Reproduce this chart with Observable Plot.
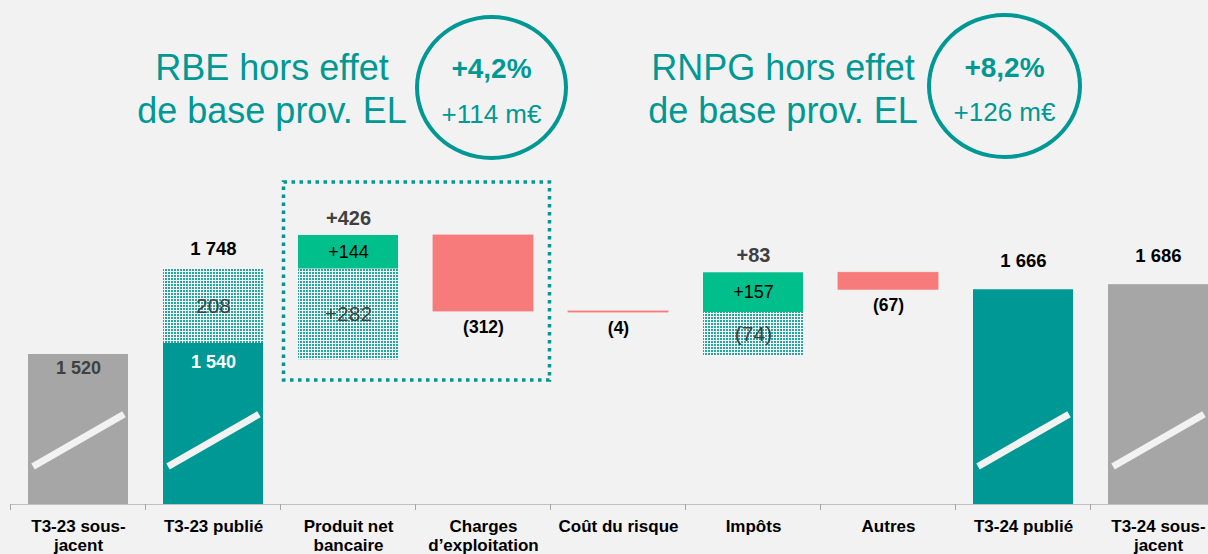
<!DOCTYPE html>
<html><head><meta charset="utf-8">
<script src="https://cdn.jsdelivr.net/npm/d3@7"></script>
<script src="https://cdn.jsdelivr.net/npm/@observablehq/plot@0.6"></script>
<style>
html,body{margin:0;padding:0;background:#f2f2f2;overflow:hidden;}
#wrap{position:relative;width:1208px;height:554px;font-family:"Liberation Sans",Arial,sans-serif;}
#head{position:relative;width:1208px;height:170px;}
.t{position:absolute;white-space:nowrap;transform:translateX(-50%);color:#009894;line-height:1;}
.c{position:absolute;box-sizing:border-box;border:4px solid #009894;border-radius:50%;}
#chart svg{display:block;}
</style></head>
<body><div id="wrap"><div id="head"></div><div id="chart"></div></div>
<script>
// ---- data ----
const categories = ["T3-23 sous-jacent","T3-23 publié","Produit net bancaire","Charges d’exploitation","Coût du risque","Impôts","Autres","T3-24 publié","T3-24 sous-jacent"];
const tickLabels = ["T3-23 sous-\njacent","T3-23 publié","Produit net\nbancaire","Charges\nd’exploitation","Coût du risque","Impôts","Autres","T3-24 publié","T3-24 sous-\njacent"];
const totalCats = ["T3-23 sous-jacent","T3-23 publié","T3-24 publié","T3-24 sous-jacent"];
const totalValues = [1520, 1540, 1666, 1686];
const totalKinds = ["underlying","published","published","underlying"];
const baseEffect23 = 208;
const stepCats = ["Produit net bancaire","Charges d’exploitation","Coût du risque","Impôts","Autres"];
const stepCore = [144, -312, -4, 157, -67];   // hors effet de base
const stepBase = [282, 0, 0, -74, 0];         // effet de base prov. EL
const headTitles = [["RBE hors effet","de base prov. EL"],["RNPG hors effet","de base prov. EL"]];
const headPct = ["+4,2%","+8,2%"];
const headAmt = ["+114 m€","+126 m€"];

// ---- helpers ----
const fmt = d3.formatLocale({decimal:",", thousands:" ", grouping:[3], currency:["","€"]}).format(",d");
const signed = v => v >= 0 ? "+" + fmt(v) : "(" + fmt(-v) + ")";
const C = {underlying:"#a6a6a6", published:"#009894", up:"#00bf8a", down:"#f87b7b", base:"url(#dots)"};

// broken value axis: piecewise transform (value -> display height), then a linear scale
const brk = d3.scaleLinear().domain([0,1520,1540,1576,1748,1892,2150]).range([0,150,161,192,235.5,269,330]);
const yOpts = {type:"linear", transform:brk, domain:[0,334], range:[334,0], axis:null};
const xOpts = {type:"band", domain:categories, range:[9.3,1227], paddingInner:0.26, paddingOuter:0.13, axis:null};
const mid = (a, b) => brk.invert((brk(a) + brk(b)) / 2);

// ---- build rows ----
const rows = [];
totalCats.forEach((c, i) => rows.push({cat:c, y1:0, y2:totalValues[i], kind:totalKinds[i]}));
const pub23 = totalValues[1];
rows.push({cat:totalCats[1], y1:pub23, y2:pub23 + baseEffect23, kind:"base"});
const labels = [];
labels.push({cat:totalCats[0], y:totalValues[0], text:fmt(totalValues[0]), role:"inTopGray"});
labels.push({cat:totalCats[1], y:totalValues[1], text:fmt(totalValues[1]), role:"inTopWhite"});
labels.push({cat:totalCats[1], y:mid(pub23, pub23 + baseEffect23), text:fmt(baseEffect23), role:"base"});
labels.push({cat:totalCats[1], y:pub23 + baseEffect23, text:fmt(pub23 + baseEffect23), role:"aboveTotal"});
labels.push({cat:totalCats[2], y:totalValues[2], text:fmt(totalValues[2]), role:"aboveTotal2"});
labels.push({cat:totalCats[3], y:totalValues[3], text:fmt(totalValues[3]), role:"aboveTotal2"});
let level = pub23 + baseEffect23;
stepCats.forEach((c, i) => {
  const core = stepCore[i], base = stepBase[i];
  if (base) {
    rows.push({cat:c, y1:level - Math.abs(base), y2:level, kind:"base"});
    labels.push({cat:c, y:mid(level - Math.abs(base), level), text:signed(base), role:"base"});
    labels.push({cat:c, y:mid(level, level + core), text:signed(core), role:"core"});
    labels.push({cat:c, y:Math.max(level, level + core), text:signed(core + base), role:"aboveDelta"});
  } else {
    labels.push({cat:c, y:Math.min(level, level + core), text:signed(core), role:"below"});
  }
  rows.push({cat:c, y1:level, y2:level + core, kind: core >= 0 ? "up" : "down"});
  level += core;
});

const kindBar = (k, o = {}) => Plot.barY(rows.filter(d => d.kind === k), {x:"cat", y1:"y1", y2:"y2", fill:C[k], ...o});
const lab = (role, o) => Plot.text(labels.filter(d => d.role === role), {x:"cat", y:"y", text:"text", ...o});

const chart = Plot.plot({
  width:1208, height:384, marginLeft:10, marginRight:0, marginTop:0, marginBottom:50,
  x:xOpts, y:yOpts,
  style:{background:"#f2f2f2", fontFamily:"Liberation Sans, Arial, sans-serif", overflow:"hidden"},
  marks:[
    kindBar("underlying"), kindBar("published"), kindBar("base"), kindBar("up"),
    kindBar("down", {stroke:C.down, strokeWidth:0.8}),
    Plot.ruleY([0], {stroke:"#bfbfbf"}),
    lab("inTopGray", {dy:14, fontSize:18, fontWeight:"bold", fill:"#404040"}),
    lab("inTopWhite", {dy:19, fontSize:18, fontWeight:"bold", fill:"white"}),
    lab("base", {fontSize:21, fill:"#404040"}),
    lab("core", {fontSize:18, fill:"black"}),
    lab("aboveTotal", {dy:-20, fontSize:18.5, fontWeight:"bold", fill:"black"}),
    lab("aboveTotal2", {dy:-29, fontSize:18.5, fontWeight:"bold", fill:"black"}),
    lab("aboveDelta", {dy:-17, fontSize:20, fontWeight:"bold", fill:"#404040"}),
    lab("below", {dy:16, fontSize:17.5, fontWeight:"bold", fill:"black"}),
    Plot.text(categories, {x:d => d, y:d => 0, text:(d, i) => tickLabels[i], lineAnchor:"top", dy:15, fontSize:17, fontWeight:"bold", lineHeight:1.07, fill:"black"})
  ]
});
document.getElementById("chart").appendChild(chart);

// ---- decorations through the plot's scales ----
const svg = d3.select(chart);
const X = chart.scale("x"), Y = chart.scale("y");
const applyHasTransform = Y.apply(2000) > -100;
const yPix = v => applyHasTransform ? Y.apply(v) : Y.apply(brk(v));
const bw = X.bandwidth, gap = X.step - X.bandwidth;
const defs = svg.insert("defs", ":first-child");
const pat = defs.append("pattern").attr("id","dots").attr("width",3).attr("height",3).attr("patternUnits","userSpaceOnUse");
pat.append("rect").attr("width",3).attr("height",3).attr("fill","#f4fafa");
pat.append("rect").attr("width",2).attr("height",2).attr("fill","#27a5a1");
// category boundary ticks
const deco = svg.append("g");
categories.concat([null]).forEach(c => {
  const x = c ? X.apply(c) - gap / 2 : X.apply(categories[categories.length-1]) + bw + gap / 2;
  deco.append("line").attr("x1",x).attr("x2",x).attr("y1",yPix(0)).attr("y2",yPix(0)+6).attr("stroke","#a6a6a6");
});
// axis-break slashes on the full bars
const breakLow = 380, breakHigh = 910;
totalCats.forEach(c => {
  const x0 = X.apply(c);
  deco.append("line").attr("x1",x0 + 5).attr("x2",x0 + bw - 4)
    .attr("y1",yPix(breakLow)).attr("y2",yPix(breakHigh))
    .attr("stroke","#f2f2f2").attr("stroke-width",7);
});
// dotted RBE frame around PNB + charges
const boxY = [1256, 2116];
const bx1 = X.apply(stepCats[0]) - gap / 2 + 3, bx2 = X.apply(stepCats[1]) + bw + gap / 2 - 1;
deco.append("rect").attr("x",bx1).attr("y",yPix(boxY[1])).attr("width",bx2 - bx1).attr("height",yPix(boxY[0]) - yPix(boxY[1]))
  .attr("fill","none").attr("stroke","#009894").attr("stroke-width",3.5).attr("stroke-dasharray","3.5 4.5");

// ---- headline texts with circles ----
const head = document.getElementById("head");
const headPos = [{cx:272, ccx:491.5, cy:87.5, w:153, h:145, b1:80, b2:123, pb:79, ab:123},
                 {cx:783, ccx:1004.5, cy:86, w:155, h:146, b1:80, b2:123, pb:77.3, ab:121}];
const add = (txt, x, baseline, size, weight) => {
  const d = document.createElement("div");
  d.className = "t"; d.textContent = txt;
  d.style.left = x + "px"; d.style.top = (baseline - 0.8465 * size) + "px";
  d.style.fontSize = size + "px"; d.style.fontWeight = weight;
  head.appendChild(d);
};
headTitles.forEach((lines, i) => {
  const p = headPos[i];
  add(lines[0], p.cx, p.b1, 36, "normal");
  add(lines[1], p.cx, p.b2, 36, "normal");
  const c = document.createElement("div");
  c.className = "c";
  c.style.left = (p.ccx - p.w / 2) + "px"; c.style.top = (p.cy - p.h / 2) + "px";
  c.style.width = p.w + "px"; c.style.height = p.h + "px";
  head.appendChild(c);
  add(headPct[i], p.ccx, p.pb, 28, "bold");
  add(headAmt[i], p.ccx, p.ab, 26, "normal");
});
</script>
</body></html>
